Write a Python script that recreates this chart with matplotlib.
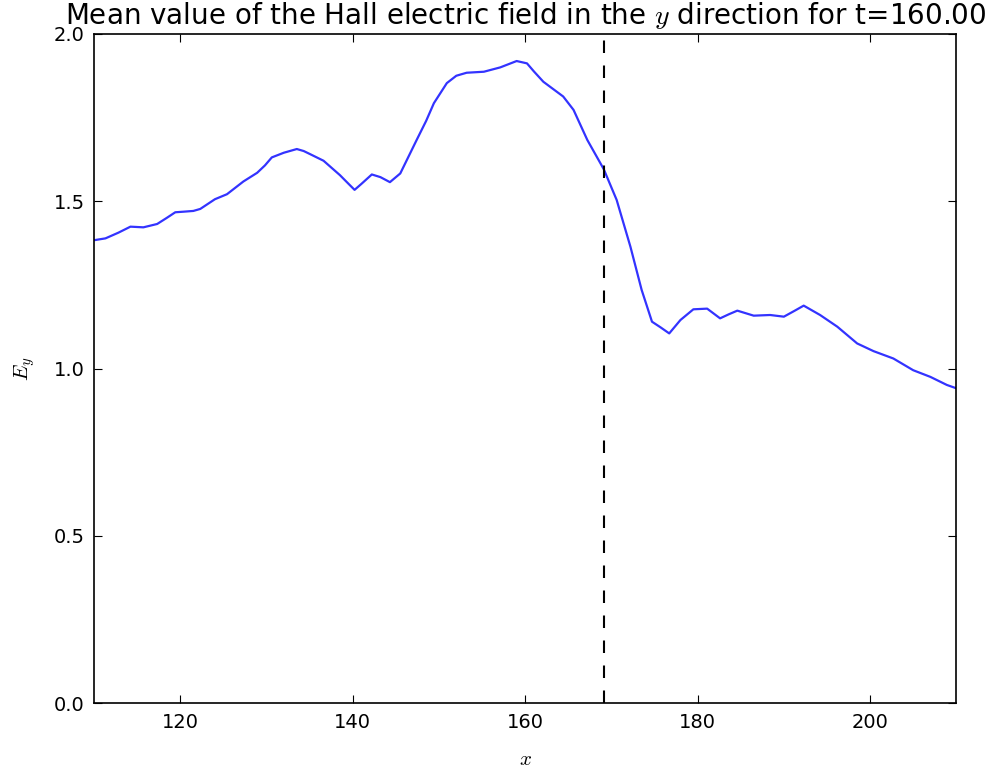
import matplotlib
matplotlib.use("Agg")
import matplotlib.pyplot as plt

# values
x_vals = [110.1, 111.3, 112.8, 114.2, 115.7, 117.3, 118.4, 119.4, 120.5, 121.5,
          122.3, 124.0, 125.4, 127.3, 128.9, 129.8, 130.6, 132.0, 133.5, 134.3,
          135.1, 136.6, 138.5, 139.5, 140.2, 141.0, 142.2, 143.2, 144.3, 145.5,
          147.4, 148.5, 149.4, 150.9, 152.0, 153.2, 155.2, 157.1, 159.0, 160.2,
          161.0, 162.1, 164.4, 165.6, 167.2, 169.1, 170.6, 172.2, 173.5, 174.7,
          175.7, 176.7, 178.0, 179.5, 181.1, 182.6, 183.6, 184.6, 186.5, 188.4,
          190.0, 191.2, 192.3, 194.2, 196.2, 198.5, 200.4, 202.7, 205.0, 207.0,
          208.9, 210.0]
ey_vals = [1.384, 1.389, 1.406, 1.424, 1.422, 1.432, 1.450, 1.467, 1.469, 1.471,
           1.477, 1.506, 1.521, 1.559, 1.585, 1.607, 1.631, 1.645, 1.656, 1.650,
           1.640, 1.621, 1.578, 1.552, 1.534, 1.552, 1.580, 1.572, 1.557, 1.583,
           1.683, 1.740, 1.793, 1.853, 1.875, 1.884, 1.887, 1.900, 1.919, 1.912,
           1.888, 1.857, 1.813, 1.773, 1.683, 1.596, 1.504, 1.364, 1.235, 1.140,
           1.123, 1.105, 1.145, 1.177, 1.179, 1.150, 1.162, 1.173, 1.158, 1.160,
           1.155, 1.172, 1.188, 1.160, 1.125, 1.075, 1.052, 1.030, 0.995, 0.975,
           0.951, 0.941]
x_front = 169.1
t_value = 160.00

plt.rcParams['mathtext.fontset'] = 'cm'
plt.rcParams['font.size'] = 12

fig = plt.figure(figsize=(9.92, 7.71), dpi=100)
ax = fig.add_axes([0.095, 0.088, 0.869, 0.868])

ax.plot(x_vals, ey_vals, color='b', alpha=0.8, linewidth=1.6)
ax.axvline(x_front, color='k', linestyle='--', dashes=(6, 6), linewidth=1.5)

ax.set_xlim(110, 210)
ax.set_ylim(0, 2.0)
ax.set_xticks([120, 140, 160, 180, 200])
ax.set_yticks([0.0, 0.5, 1.0, 1.5, 2.0])
ax.tick_params(direction='in', top=True, right=True, length=6, labelsize=14, pad=7)
for s in ax.spines.values():
    s.set_linewidth(1.2)

ax.set_xlabel('$x$', fontsize=15, labelpad=12)
ax.set_ylabel('$E_y$', fontsize=15, labelpad=12)
ax.set_title('Mean value of the Hall electric field in the $y$ direction for t=%.2f' % t_value,
             fontsize=20, pad=7)

fig.savefig('out.png', dpi=100, facecolor='white')
